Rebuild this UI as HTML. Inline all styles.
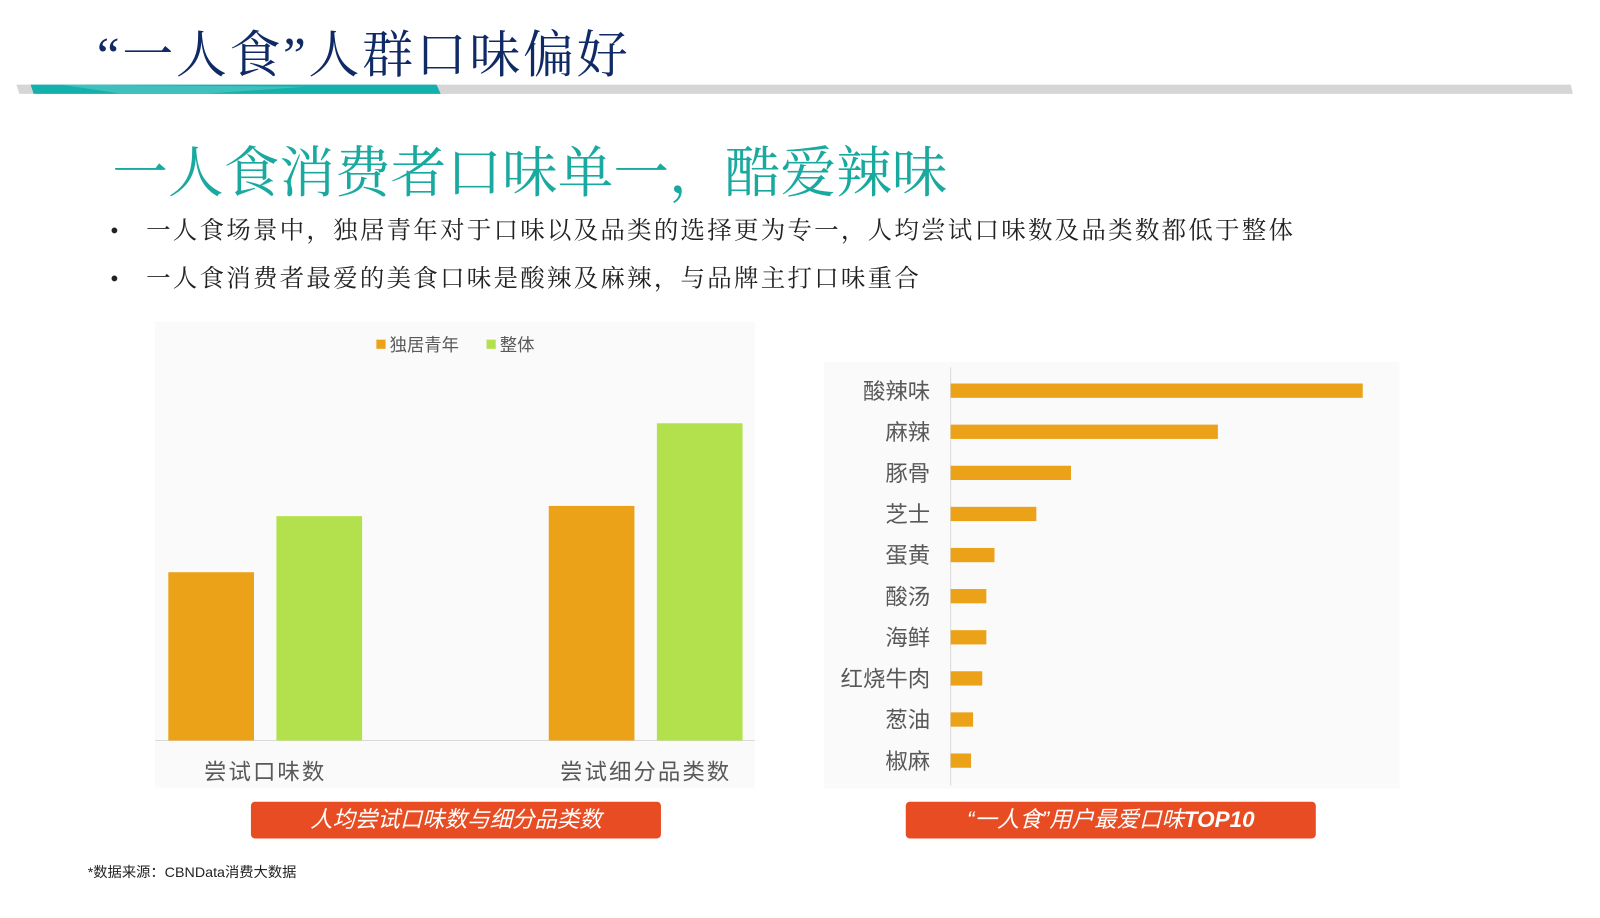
<!DOCTYPE html>
<html><head><meta charset="utf-8">
<style>
body{margin:0;width:1600px;height:900px;background:#fff;position:relative;overflow:hidden;font-family:"Liberation Sans","Noto Sans CJK SC",sans-serif}
#wrap{position:absolute;left:0;top:0;width:1600px;height:900px;transform:scale(1.02);transform-origin:0 0}
.abs{position:absolute}
</style></head><body>
<div id="wrap">
<div class="abs" style="left:95px;top:14px;font-family:'Liberation Serif','Noto Serif CJK SC',serif;font-size:50px;color:#102a66;white-space:nowrap;letter-spacing:2.6px">“一人食”人群口味偏好</div>
<svg class="abs" style="left:0;top:80px" width="1600" height="16">
<polygon points="16,3 1540,3 1542,12 19,12" fill="#d6d6d6"/>
<polygon points="30,3 428,3 432,12 33,12" fill="#14b0ab"/>
<polygon points="60,3 300,5 200,12 120,12" fill="#53c8c4" opacity=".7"/>
</svg>
<div class="abs" style="left:110px;top:125px;font-family:'Liberation Serif','Noto Serif CJK SC',serif;font-size:54.6px;color:#1aa99f;white-space:nowrap">一人食消费者口味单一，酷爱辣味</div>
<div class="abs" style="left:108px;top:206px;font-family:'Liberation Serif','Noto Serif CJK SC',serif;font-size:24px;letter-spacing:2.2px;color:#222;white-space:nowrap">•&nbsp;&nbsp;&nbsp;一人食场景中，独居青年对于口味以及品类的选择更为专一，人均尝试口味数及品类数都低于整体</div>
<div class="abs" style="left:108px;top:253px;font-family:'Liberation Serif','Noto Serif CJK SC',serif;font-size:24px;letter-spacing:2.2px;color:#222;white-space:nowrap">•&nbsp;&nbsp;&nbsp;一人食消费者最爱的美食口味是酸辣及麻辣，与品牌主打口味重合</div>

<svg class="abs" style="left:0;top:0" width="1600" height="900" id="charts">
<rect x="152" y="315" width="588" height="457" fill="#fafafa"/>
<rect x="808" y="355" width="564" height="418" fill="#fafafa"/>
<g id="left"></g><g id="right"></g>
</svg>

<div class="abs" style="left:246px;top:786px;width:402px;height:36px;background:#e84c22;border-radius:4px;color:#fff;font-size:22px;font-style:italic;text-align:center;line-height:36px">人均尝试口味数与细分品类数</div>
<div class="abs" style="left:888px;top:786px;width:402px;height:36px;background:#e84c22;border-radius:4px;color:#fff;font-size:22px;font-style:italic;text-align:center;line-height:36px">“一人食”用户最爱口味<b>TOP10</b></div>
<div class="abs" style="left:86px;top:845px;font-size:14px;color:#222">*数据来源：CBNData消费大数据</div>
</div>
<script>
const groups=["尝试口味数","尝试细分品类数"];
const soloValues=[165,230];
const overallValues=[220,311];
const seriesNames=["独居青年","整体"];
const flavors=["酸辣味","麻辣","豚骨","芝士","蛋黄","酸汤","海鲜","红烧牛肉","葱油","椒麻"];
const flavorValues=[404,262,118,84,43,35,35,31,22,20];

const NS="http://www.w3.org/2000/svg";
function mk(tag,attrs,parent,text){const e=document.createElementNS(NS,tag);for(const k in attrs)e.setAttribute(k,attrs[k]);if(text!==undefined)e.textContent=text;parent.appendChild(e);return e;}
const L=document.getElementById('left');
const base=726;
const yL=v=>base-v;
const xG=i=>165+i*373;
mk('line',{x1:152,y1:base,x2:740,y2:base,stroke:'#d9d9d9'},L);
groups.forEach((g,i)=>{
 const a=mk('rect',{x:xG(i),y:yL(soloValues[i]),width:84,height:soloValues[i],fill:'#eba118'},L);
 
 
 const b=mk('rect',{x:xG(i)+106,y:yL(overallValues[i]),width:84,height:overallValues[i],fill:'#b2e14d'},L);
 
 
 const t=mk('text',{x:xG(i)+95,y:764,'text-anchor':'middle','font-size':22,fill:'#595959','letter-spacing':'2'},L,g);
 
 
});
const lg=mk('g',{},L);


mk('rect',{x:369,y:333,width:9,height:9,fill:'#eba118'},lg);
mk('text',{x:382,y:344,'font-size':17,fill:'#595959'},lg,seriesNames[0]);
mk('rect',{x:477,y:333,width:9,height:9,fill:'#b2e14d'},lg);
mk('text',{x:490,y:344,'font-size':17,fill:'#595959'},lg,seriesNames[1]);

const R=document.getElementById('right');
const x0=932;
const xR=v=>x0+v;
const yR=i=>383+i*40.3;
mk('line',{x1:x0,y1:360,x2:x0,y2:770,stroke:'#d9d9d9'},R);
flavors.forEach((f,i)=>{
 const r=mk('rect',{x:x0,y:yR(i)-7,width:xR(flavorValues[i])-x0,height:14,fill:'#eba118'},R);
 
 
 const t=mk('text',{x:912,y:yR(i)+8,'text-anchor':'end','font-size':22,fill:'#595959'},R,f);
 
 
});
</script>
</body></html>
